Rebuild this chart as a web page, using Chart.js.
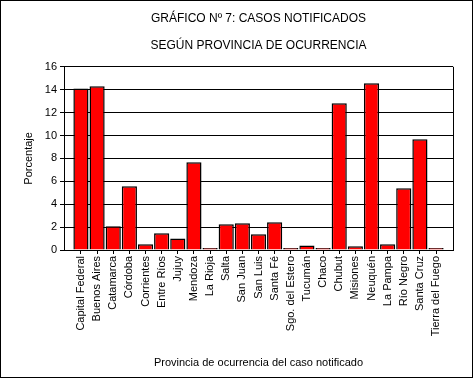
<!DOCTYPE html>
<html>
<head>
<meta charset="utf-8">
<script src="https://cdn.jsdelivr.net/npm/chart.js@4"></script>
<style>
  html, body { margin: 0; padding: 0; background: #fff; }
  #wrap { width: 474px; height: 380px; }
</style>
</head>
<body>
<div id="wrap"><canvas id="chart" width="474" height="380"></canvas></div>
<script>
// Provincias y porcentajes
const provincias = ['Capital Federal', 'Buenos Aires', 'Catamarca', 'Córdoba', 'Corrientes', 'Entre Ríos',
    'Jujuy', 'Mendoza', 'La Rioja', 'Salta', 'San Juan', 'San Luis', 'Santa Fé', 'Sgo. del Estero',
    'Tucumán', 'Chaco', 'Chubut', 'Misiones', 'Neuquén', 'La Pampa', 'Río Negro', 'Santa Cruz', 'Tierra del Fuego'];
const porcentajes = [14.1, 14.3, 2.07, 5.57, 0.5, 1.46, 1.0, 7.67, 0.06, 2.25, 2.33, 1.37, 2.42, 0.15,
    0.4, 0.05, 12.82, 0.32, 14.57, 0.5, 5.39, 9.68, 0.06];
const yTicks = [0, 2, 4, 6, 8, 10, 12, 14, 16];

const fuente = "'Liberation Sans', Arial, sans-serif";

// Marco exterior y borde derecho del area de trazado
const marcoPlugin = {
    id: 'marco',
    afterDraw(chart) {
        const ctx = chart.ctx;
        const a = chart.chartArea;
        ctx.save();
        ctx.strokeStyle = '#000';
        ctx.lineWidth = 1;
        ctx.beginPath();
        ctx.moveTo(Math.round(a.right) + 0.5, a.top);
        ctx.lineTo(Math.round(a.right) + 0.5, a.bottom);
        ctx.stroke();
        ctx.strokeRect(0.5, 0.5, 472, 377);
        ctx.restore();
    }
};

// eje x numerico (indice de provincia) para dejar el margen lateral del original
const puntos = porcentajes.map((v, i) => ({ x: i, y: v }));

new Chart(document.getElementById('chart'), {
    type: 'bar',
    data: {
        datasets: [{
            data: puntos,
            backgroundColor: '#ff0000',
            borderColor: '#000',
            borderWidth: 1.5,
            barPercentage: 0.94,
            categoryPercentage: 1,
            minBarLength: 2
        }]
    },
    options: {
        responsive: false,
        animation: false,
        layout: { padding: { left: 22, right: 21, top: 0, bottom: 10 } },
        plugins: {
            legend: { display: false },
            tooltip: { enabled: false },
            title: {
                display: true,
                fullSize: false,
                text: 'GRÁFICO Nº 7: CASOS NOTIFICADOS',
                color: '#000',
                font: { family: fuente, size: 12, weight: 'normal' },
                padding: { top: 11, bottom: 6 }
            },
            subtitle: {
                display: true,
                fullSize: false,
                text: 'SEGÚN PROVINCIA DE OCURRENCIA',
                color: '#000',
                font: { family: fuente, size: 12, weight: 'normal' },
                padding: { top: 7, bottom: 14 }
            }
        },
        scales: {
            x: {
                type: 'linear',
                offset: false,
                min: -1.05,
                max: provincias.length - 1 + 1.05,
                afterFit(scale) { scale.height = 120; },
                afterBuildTicks(scale) { scale.ticks = provincias.map((p, i) => ({ value: i })); },
                grid: { display: true, drawOnChartArea: false, offset: false, color: '#000', tickLength: 4 },
                border: { color: '#000', width: 1 },
                ticks: {
                    color: '#000',
                    font: { family: fuente, size: 11 },
                    maxRotation: 90,
                    minRotation: 90,
                    autoSkip: false,
                    padding: 2,
                    callback: (v) => provincias[v]
                },
                title: {
                    display: true,
                    text: 'Provincia de ocurrencia del caso notificado',
                    color: '#000',
                    font: { family: fuente, size: 11 },
                    padding: 0
                }
            },
            y: {
                min: 0,
                max: 16,
                afterFit(scale) { scale.width = 42; },
                afterBuildTicks(scale) { scale.ticks = yTicks.map(v => ({ value: v })); },
                grid: { color: '#000', tickLength: 4 },
                border: { color: '#000', width: 1 },
                ticks: {
                    color: '#000',
                    font: { family: fuente, size: 11 },
                    padding: 3
                },
                title: {
                    display: true,
                    text: 'Porcentaje',
                    color: '#000',
                    font: { family: fuente, size: 11 },
                    padding: 0
                }
            }
        }
    },
    plugins: [marcoPlugin]
});
</script>
</body>
</html>
